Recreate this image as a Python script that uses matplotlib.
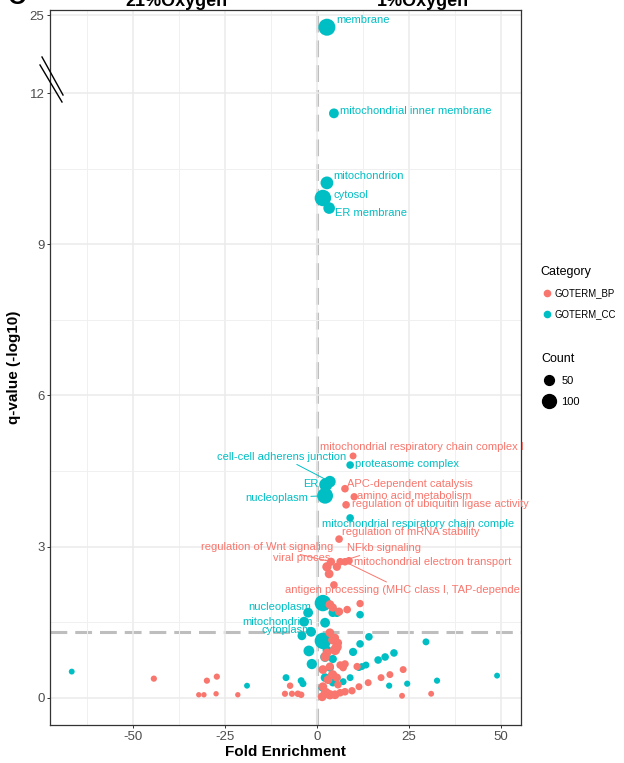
import numpy as np
import matplotlib
matplotlib.use("Agg")
import matplotlib.pyplot as plt
from matplotlib.lines import Line2D

plt.rcParams['font.family'] = ['Liberation Sans', 'DejaVu Sans']

# ---------------- data ----------------
# GOTERM_CC (cellular component)
cc_term = ["membrane", "mitochondrial inner membrane", "mitochondrion", "cytosol",
           "ER membrane", "proteasome complex", "cell-cell adherens junction", "ER",
           "nucleoplasm", "mitochondrial respiratory chain comple", "nucleoplasm",
           "mitochondrion", "cytoplasm"] + [""] * 37
cc_fold = [2.7, 4.6, 2.7, 1.6, 3.3, 9.0, 3.5, 2.4, 2.2, 9.0, -2.4, -3.5, -1.6,
           1.6, 2.2, 4.3, 5.4, 11.7, -4.1, 1.6, 14.1, 29.6, 11.7, 9.8, 20.9, 18.5,
           16.6, -2.2, -1.4, 2.2, 4.3, 3.5, 2.7, 13.3, 12.2, 11.4, 9.0, 7.1, 32.6,
           48.9, 24.5, 19.6, -8.4, -19.0, -66.6, -4.3, -3.8, 2.2, 4.3, 1.4]
cc_q = [23.0, 11.6, 10.22, 9.92, 9.72, 4.62, 4.29, 4.23, 4.01, 3.57, 1.69, 1.51, 1.31,
        1.88, 1.49, 1.69, 1.69, 1.65, 1.23, 1.13, 1.21, 1.11, 1.07, 0.91, 0.89, 0.81,
        0.75, 0.93, 0.67, 0.81, 0.77, 0.60, 0.95, 0.65, 0.62, 0.60, 0.40, 0.32, 0.34,
        0.44, 0.28, 0.24, 0.40, 0.24, 0.52, 0.34, 0.28, 0.40, 0.30, 0.20]
cc_count = [150, 50, 85, 140, 70, 30, 70, 90, 130, 30, 50, 50, 50,
            140, 50, 40, 40, 30, 40, 140, 30, 25, 30, 35, 30, 30,
            30, 60, 55, 50, 35, 35, 40, 25, 25, 25, 25, 25, 20,
            18, 20, 20, 25, 18, 18, 25, 25, 40, 30, 30]

# GOTERM_BP (biological process)
bp_term = ["mitochondrial respiratory chain complex I", "APC-dependent catalysis",
           "amino acid metabolism", "regulation of ubiquitin ligase activity",
           "regulation of mRNA stability", "regulation of Wnt signaling", "viral proces",
           "NFkb signaling", "mitochondrial electron transport",
           "antigen processing (MHC class I, TAP-depende"] + [""] * 54
bp_fold = [9.8, 7.6, 10.1, 7.9, 6.0, 3.8, 2.7, 6.3, 8.7, 7.6,
           5.4, 3.3, 4.6, 3.5, 4.3, 6.0, 8.2, 11.7, 3.5, 4.3, 5.4, 4.9, 2.7, 2.2,
           7.6, 7.1, 10.9, 23.4, 19.8, 17.4, 13.9, 11.4, 9.5, 7.6, 6.3, 23.1, 31.0,
           1.6, 2.4, 3.5, 4.9, 1.4, 3.0, 4.3, 1.6, 5.7, 4.9, 5.7, 3.5, 6.3, 4.1, 5.4,
           -44.3, -29.9, -27.2, -32.1, -30.7, -27.4, -21.5, -7.3, -8.7, -6.8, -5.2, -4.3]
bp_q = [4.80, 4.15, 3.99, 3.83, 3.15, 2.70, 2.60, 2.70, 2.72, 2.70,
        2.60, 2.46, 2.24, 1.85, 1.79, 1.71, 1.75, 1.87, 1.29, 1.15, 1.01, 0.95, 0.89, 0.81,
        0.67, 0.60, 0.62, 0.56, 0.46, 0.40, 0.30, 0.22, 0.14, 0.12, 0.10, 0.04, 0.08,
        0.22, 0.10, 0.06, 0.06, 0.02, 0.36, 0.46, 0.56, 0.26, 1.19, 1.09, 0.62, 0.65, 0.46, 0.40,
        0.38, 0.34, 0.42, 0.06, 0.06, 0.08, 0.06, 0.24, 0.08, 0.08, 0.08, 0.06]
bp_count = [25, 30, 28, 30, 30, 35, 45, 30, 30, 30,
            35, 40, 30, 40, 35, 35, 30, 28, 40, 45, 50, 55, 40, 45,
            30, 30, 28, 25, 25, 25, 25, 25, 28, 30, 30, 18, 18,
            40, 50, 45, 40, 40, 40, 40, 40, 30, 35, 35, 35, 30, 35, 35,
            20, 20, 20, 15, 15, 15, 15, 22, 20, 20, 22, 22]

x_ticks = [-50, -25, 0, 25, 50]
y_ticks = [0, 3, 6, 9, 12, 25]
q_cut = 1.3
legend_sizes = [50, 100]
categories = ["GOTERM_BP", "GOTERM_CC"]

RED = "#F8766D"
TEAL = "#00BFC4"

# label placements: (dx px, dy px (up), ha, segment?)
cc_place = {
    0: (9, 7, 'left', False), 1: (6, 2, 'left', False), 2: (6, 7, 'left', False),
    3: (11, 3, 'left', False), 4: (6, -5, 'left', False), 5: (5, 1, 'left', False),
    6: (-48, 25, 'center', True), 7: (-7, 1, 'right', False), 8: (-17, -2, 'right', True),
    9: (-28, -6, 'left', False), 10: (3, 6, 'right', False), 11: (9, 0, 'right', False),
    12: (1, 2, 'right', False),
}
bp_place = {
    0: (-33, 9, 'left', False), 1: (2, 5, 'left', False), 2: (3, 1, 'left', False),
    3: (6, 1, 'left', False), 4: (3, 7, 'left', False), 5: (2, 15, 'right', True),
    6: (3, 9, 'right', False), 7: (7, 14, 'left', True), 8: (5, -1, 'left', False),
    9: (-60, -28, 'left', True),
}

# ---------------- figure ----------------
W, H = 624, 763
fig = plt.figure(figsize=(W / 100, H / 100), dpi=100)
ax = fig.add_axes([50 / W, 1 - 725 / H, (521 - 50) / W, (725 - 10) / H])

K = (78 / 50.4) / 13.0  # compression above the axis break


def fwd(y):
    y = np.asarray(y, dtype=float)
    return np.where(y <= 12, y, 12 + (y - 12) * K)


def inv(t):
    t = np.asarray(t, dtype=float)
    return np.where(t <= 12, t, 12 + (t - 12) / K)


ax.set_yscale('function', functions=(fwd, inv))
ax.set_xlim(-72.5, 55.4)
ax.set_ylim(-0.54, 25.87)

ax.set_xticks(x_ticks)
ax.set_xticklabels([str(v) for v in x_ticks])
ax.set_yticks(y_ticks)
ax.set_yticklabels([str(v) for v in y_ticks])
ax.set_xticks([-62.5, -37.5, -12.5, 12.5, 37.5], minor=True)
ax.set_yticks([1.5, 4.5, 7.5, 10.5], minor=True)
ax.grid(which='major', color='#EBEBEB', lw=1.1, zorder=0)
ax.grid(which='minor', color='#F0F0F0', lw=0.7, zorder=0)
ax.tick_params(which='minor', length=0)
ax.tick_params(which='major', length=2.5, width=0.7, color='#333333',
               labelsize=9.5, labelcolor='#4D4D4D', pad=1.5)
ax.set_axisbelow(True)
for s in ax.spines.values():
    s.set_color('#333333')
    s.set_linewidth(0.9)

ax.axvline(0, color='#BEBEBE', lw=2.2, dashes=(5.5, 2.6), zorder=0.5)
ax.axhline(q_cut, color='#BEBEBE', lw=2.2, dashes=(5.5, 2.6), zorder=0.5)

ax.scatter(cc_fold, cc_q, s=cc_count, color=TEAL, edgecolors='none', zorder=2)
ax.scatter(bp_fold, bp_q, s=bp_count, color=RED, edgecolors='none', zorder=2.1)

PX = 0.72


def put_labels(terms, xs, ys, place, color):
    for i, (dx, dy, ha, seg) in place.items():
        kw = {}
        if seg:
            kw['arrowprops'] = dict(arrowstyle='-', color=color, lw=0.7,
                                    shrinkA=0, shrinkB=3)
        ax.annotate(terms[i], xy=(xs[i], ys[i]), xytext=(dx * PX, dy * PX),
                    textcoords='offset points', ha=ha, va='center',
                    fontsize=8, color=color, zorder=5, **kw)


put_labels(cc_term, cc_fold, cc_q, cc_place, TEAL)
put_labels(bp_term, bp_fold, bp_q, bp_place, RED)

ax.set_xlabel("Fold Enrichment", fontsize=11, fontweight='bold', labelpad=2)
ax.set_ylabel("q-value (-log10)", fontsize=11, fontweight='bold', labelpad=6)

# titles (partly cut by the top edge, as in the reference)
fig.text(176 / W, 1 - 6.5 / H, "21%Oxygen", ha='center', va='baseline',
         fontsize=13, fontweight='bold')
fig.text(423 / W, 1 - 6.5 / H, "1%Oxygen", ha='center', va='baseline',
         fontsize=13, fontweight='bold')
fig.text(8 / W, 1 - 4 / H, "C", ha='left', va='baseline', fontsize=18, fontweight='bold')

# axis-break marks
for (x0, y0, x1, y1) in [(40, 65, 62, 102), (42, 57, 63, 95)]:
    fig.add_artist(Line2D([x0 / W, x1 / W], [1 - y0 / H, 1 - y1 / H],
                          transform=fig.transFigure, color='black', lw=1.0))

# legends
cat_handles = [Line2D([], [], ls='none', marker='o', ms=4.5, color=RED),
               Line2D([], [], ls='none', marker='o', ms=4.5, color=TEAL)]
leg1 = fig.legend(cat_handles, categories, title="Category",
                  loc='upper left', bbox_to_anchor=(537 / W, 1 - 262 / H),
                  frameon=False, fontsize=6.9, title_fontsize=9,
                  handletextpad=0.15, labelspacing=1.1, handlelength=1.3,
                  borderaxespad=0)
leg1._legend_box.align = "left"
size_handles = [Line2D([], [], ls='none', marker='o', ms=np.sqrt(c), color='black')
                for c in legend_sizes]
leg2 = fig.legend(size_handles, [str(c) for c in legend_sizes], title="Count",
                  loc='upper left', bbox_to_anchor=(537 / W, 1 - 349 / H),
                  frameon=False, fontsize=8, title_fontsize=9,
                  handletextpad=0.5, labelspacing=0.95, handlelength=1.3,
                  borderaxespad=0)
leg2._legend_box.align = "left"

fig.savefig("out.png", dpi=100)
